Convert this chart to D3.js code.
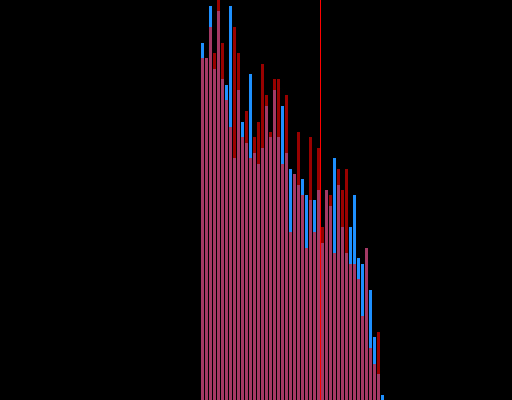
<!DOCTYPE html>
<html>
<head>
<meta charset="utf-8">
<script src="https://cdn.jsdelivr.net/npm/d3@7"></script>
<style>
  html, body { margin: 0; padding: 0; background: #000; overflow: hidden; }
  svg { display: block; }
</style>
</head>
<body>
<div id="chart"></div>
<script>
// Bin counts for the two overlaid histograms (one bin = one unit)
const binStarts = d3.range(46);
const blueCounts = [357, 342, 394, 331, 389, 321, 315, 394, 242, 310, 278, 257, 326, 247, 236, 252,
  294, 263, 310, 263, 294, 247, 231, 226, 215, 221, 205, 200, 200, 210, 157, 210,
  194, 242, 215, 173, 147, 173, 205, 142, 136, 152, 110, 63, 26, 5];
const redCounts = [342, 342, 373, 347, 405, 357, 300, 273, 373, 347, 263, 289, 242, 263, 278, 336,
  305, 268, 321, 321, 236, 305, 168, 226, 268, 205, 152, 263, 168, 252, 173, 210,
  205, 147, 231, 210, 231, 136, 136, 121, 84, 152, 52, 36, 68, 0];
const markerValue = 29.75;

const width = 512;
const height = 400;

const svg = d3.select("#chart")
  .append("svg")
  .attr("width", width)
  .attr("height", height);

svg.append("rect")
  .attr("width", width)
  .attr("height", height)
  .attr("fill", "#000");

const x = d3.scaleLinear()
  .domain([-50.25, 77.75])
  .range([0, width]);

const y = d3.scaleLinear()
  .domain([0, 400])
  .range([height, 0]);

function drawBars(values, cls, color, opacity) {
  svg.append("g")
    .attr("class", cls)
    .selectAll("rect")
    .data(binStarts)
    .join("rect")
    .attr("x", d => x(d))
    .attr("width", d => x(d + 1) - x(d) - 1)
    .attr("y", (d, i) => y(values[i]))
    .attr("height", (d, i) => y(0) - y(values[i]))
    .attr("fill", color)
    .attr("fill-opacity", opacity);
}

// Blue first, then translucent red on top
drawBars(blueCounts, "blue-bars", "#1e90ff", 1);
drawBars(redCounts, "red-bars", "#ff0000", 0.6);

// Marker line
svg.append("line")
  .attr("x1", x(markerValue) + 0.5)
  .attr("x2", x(markerValue) + 0.5)
  .attr("y1", 0)
  .attr("y2", height)
  .attr("stroke", "#ff0000")
  .attr("stroke-width", 1);
</script>
</body>
</html>
